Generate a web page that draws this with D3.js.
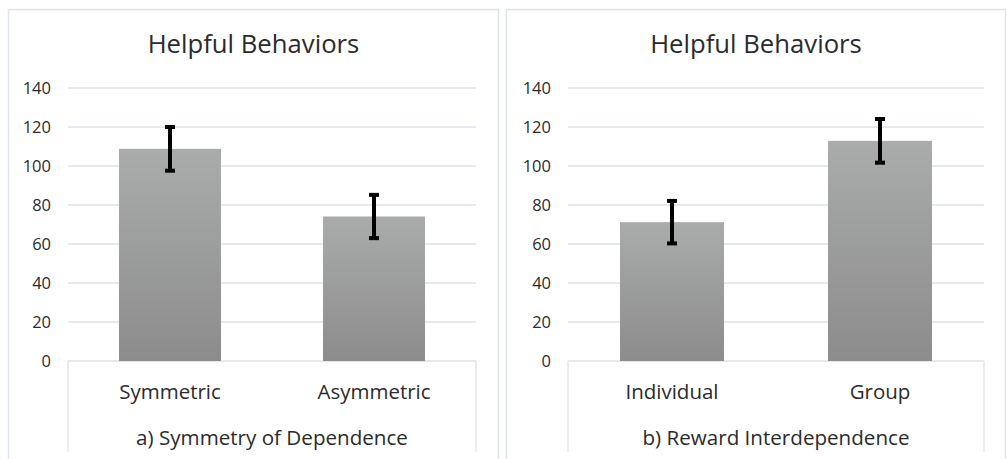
<!DOCTYPE html>
<html>
<head>
<meta charset="utf-8">
<script src="https://cdn.jsdelivr.net/npm/d3@7"></script>
<style>
  body { margin: 0; background: #fff; }
  text { font-family: "Open Sans", "Noto Sans", sans-serif; fill: #2b2b2b; }
</style>
</head>
<body>
<div id="chart"></div>
<script>
// Dados
const titles = ["Helpful Behaviors", "Helpful Behaviors"];
const captions = ["a) Symmetry of Dependence", "b) Reward Interdependence"];
const categoriesA = ["Symmetric", "Asymmetric"];
const meansA = [108.8, 74.1];
const errorsA = [11.2, 11.1];
const categoriesB = ["Individual", "Group"];
const meansB = [71.2, 112.9];
const errorsB = [10.9, 11.2];
const yTicks = [0, 20, 40, 60, 80, 100, 120, 140];

const width = 1007;
const height = 459;

const svg = d3.select("#chart")
    .append("svg")
    .attr("width", width)
    .attr("height", height);

// Gradiente das barras
const grad = svg.append("defs").append("linearGradient")
    .attr("id", "barGrad")
    .attr("x1", 0).attr("y1", 0).attr("x2", 0).attr("y2", 1);
grad.append("stop").attr("offset", "0%").attr("stop-color", "#aaabab");
grad.append("stop").attr("offset", "100%").attr("stop-color", "#8c8c8c");

// Painéis: borda externa e área do gráfico
const panels = [
    { frame: [8.5, 498.5], plot: [68, 476], cats: categoriesA, means: meansA, errs: errorsA },
    { frame: [506.5, 1005.5], plot: [568, 984], cats: categoriesB, means: meansB, errs: errorsB }
];

panels.forEach(function(p, i) {
    const g = svg.append("g");

    // Borda do painel (sem linha inferior, corta na janela)
    g.append("path")
        .attr("d", `M${p.frame[0]},${height + 5}V9.5H${p.frame[1]}V${height + 5}`)
        .attr("fill", "none")
        .attr("stroke", "#dde4ec")
        .attr("stroke-width", 1.5);

    const yScale = d3.scaleLinear()
        .domain([0, 140])
        .range([361, 88]);

    const xScale = d3.scaleBand()
        .domain(p.cats)
        .range(p.plot)
        .padding(0.5)
        .paddingOuter(0.25);

    // Linhas de grade
    g.append("g")
        .selectAll("line")
        .data(yTicks)
        .enter()
        .append("line")
        .attr("x1", p.plot[0])
        .attr("x2", p.plot[1])
        .attr("y1", d => yScale(d))
        .attr("y2", d => yScale(d))
        .attr("stroke", "#dbe2ea")
        .attr("stroke-width", 1.5);

    // Caixa do eixo de categorias
    g.append("path")
        .attr("d", `M${p.plot[0]},${yScale(0)}V452M${p.plot[1]},${yScale(0)}V452`)
        .attr("fill", "none")
        .attr("stroke", "#e1e7ee")
        .attr("stroke-width", 1.5);

    // Eixo Y
    const yAxis = g.append("g")
        .attr("transform", `translate(${p.plot[0] - 17},0)`)
        .call(d3.axisLeft(yScale).tickValues(yTicks).tickSize(0).tickPadding(0));
    yAxis.select(".domain").remove();
    yAxis.selectAll("text")
        .style("font-size", "16.5px")
        .attr("fill", "#2b2b2b");

    // Eixo X
    const xAxis = g.append("g")
        .attr("transform", `translate(0,${yScale(0)})`)
        .call(d3.axisBottom(xScale).tickSize(0).tickPadding(0));
    xAxis.select(".domain").remove();
    xAxis.selectAll("text")
        .attr("dy", null)
        .attr("y", 38)
        .style("font-size", "20.5px")
        .attr("fill", "#2b2b2b");

    // Barras
    g.selectAll(".bar")
        .data(p.cats)
        .enter()
        .append("rect")
        .attr("class", "bar")
        .attr("x", d => xScale(d))
        .attr("y", (d, j) => yScale(p.means[j]))
        .attr("width", xScale.bandwidth())
        .attr("height", (d, j) => yScale(0) - yScale(p.means[j]))
        .attr("fill", "url(#barGrad)");

    // Barras de erro
    const eb = g.selectAll(".err")
        .data(p.cats)
        .enter()
        .append("g")
        .attr("class", "err")
        .attr("stroke", "#000")
        .attr("stroke-width", 4);
    const cx = d => xScale(d) + xScale.bandwidth() / 2;
    eb.append("line")
        .attr("x1", cx).attr("x2", cx)
        .attr("y1", (d, j) => yScale(p.means[j] + p.errs[j]))
        .attr("y2", (d, j) => yScale(p.means[j] - p.errs[j]));
    eb.append("line")
        .attr("x1", d => cx(d) - 5).attr("x2", d => cx(d) + 5)
        .attr("y1", (d, j) => yScale(p.means[j] + p.errs[j]))
        .attr("y2", (d, j) => yScale(p.means[j] + p.errs[j]));
    eb.append("line")
        .attr("x1", d => cx(d) - 5).attr("x2", d => cx(d) + 5)
        .attr("y1", (d, j) => yScale(p.means[j] - p.errs[j]))
        .attr("y2", (d, j) => yScale(p.means[j] - p.errs[j]));

    // Título
    g.append("text")
        .attr("x", (p.frame[0] + p.frame[1]) / 2)
        .attr("y", 53)
        .attr("text-anchor", "middle")
        .style("font-size", "25.7px")
        .text(titles[i]);

    // Legenda inferior
    g.append("text")
        .attr("x", (p.plot[0] + p.plot[1]) / 2)
        .attr("y", 445)
        .attr("text-anchor", "middle")
        .style("font-size", "20.6px")
        .text(captions[i]);
});
</script>
</body>
</html>
